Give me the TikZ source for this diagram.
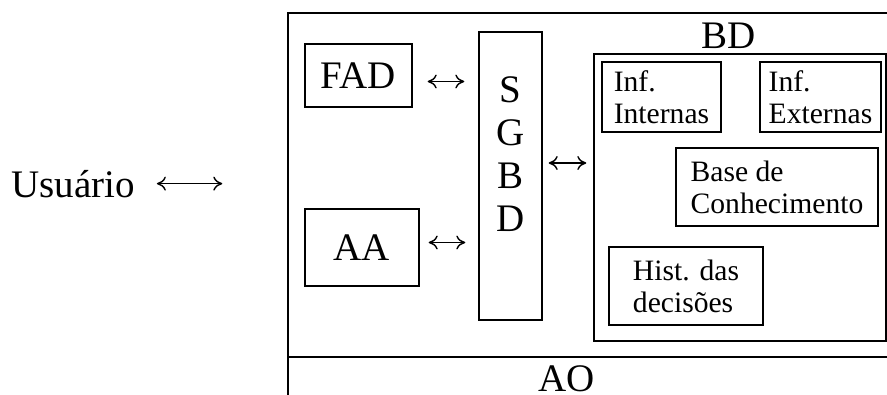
\documentclass[tikz,border=0pt]{standalone}
\usepackage{fontspec}
\setmainfont{Liberation Serif}
\usepackage{tikz}
\usetikzlibrary{arrows.meta, positioning}

\begin{document}
\begin{tikzpicture}[x=1pt, y=-1pt, >={To[length=9pt, width=14pt]},
  box/.style={draw, line width=1.4pt, inner sep=0pt},
  big/.style={font=\fontsize{39}{43}\selectfont, align=center},
  small/.style={font=\fontsize{29.6}{32}\selectfont, align=left},
  link/.style={<->, line width=1.4pt}]
  \useasboundingbox (0,0) rectangle (887,394);
  \clip (0,0) rectangle (887,394);

  % system frame and the AO strip at its foot
  \node[box, minimum width=612pt, minimum height=407pt] (sys) at (594,216.5) {};
  \draw[line width=1.4pt] (sys.west |- 0,357) -- (sys.east |- 0,357);
  \node[big, anchor=base, inner sep=0pt] (ao) at (567,391) {AO};

  \node[big, anchor=base west, inner sep=0pt] (user) at (11,197) {Usuário};

  % left column and the manager
  \node[box, big, minimum width=107pt, minimum height=63pt] (fad) at (358.5,75.5) {FAD};
  \node[box, big, minimum width=114pt, minimum height=77pt] (aa) at (362,247.5) {AA};
  \node[box, big, minimum width=63pt, minimum height=288pt] (sgbd) at (510.5,176)
    {S\\G\\B\\D\\\mbox{}};

  % database block
  \node[box, minimum width=292pt, minimum height=287pt] (bd) at (740,197.5) {};
  \node[big, anchor=base, inner sep=0pt] (bdlabel) at (729,48) {BD};
  \node[box, small, minimum width=119pt, minimum height=70pt] (infint) at (661.5,97)
    {Inf.\\Internas};
  \node[box, small, minimum width=121pt, minimum height=70pt] (infext) at (820.5,97)
    {Inf.\\Externas};
  \node[box, small, minimum width=202pt, minimum height=78pt] (base) at (777,187)
    {Base de\\Conhecimento};
  \node[box, small, minimum width=154pt, minimum height=78pt] (hist) at (686,286)
    {Hist. das\\decisões};

  % links
  \draw[link, shorten <=22pt, shorten >=65pt] (user.east) -- (user.east -| sys.west);
  \draw[link, shorten <=15pt, shorten >=14pt]
    ([yshift=-6pt]fad.east) -- ([yshift=-6pt]fad.east -| sgbd.west);
  \draw[link, shorten <=9pt, shorten >=13pt]
    ([yshift=5pt]aa.east) -- ([yshift=5pt]aa.east -| sgbd.west);
  \draw[link, shorten <=6pt, shorten >=7pt]
    ([yshift=13pt]sgbd.east) -- ([yshift=13pt]sgbd.east -| bd.west);
\end{tikzpicture}
\end{document}
